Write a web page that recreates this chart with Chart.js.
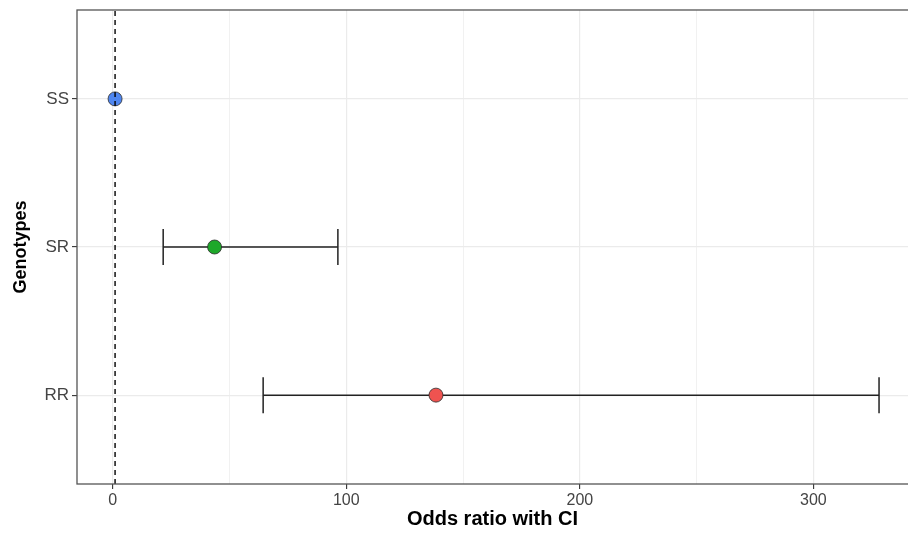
<!DOCTYPE html>
<html>
<head>
<meta charset="utf-8">
<script src="https://cdn.jsdelivr.net/npm/chart.js@4"></script>
<style>
  html, body { margin: 0; padding: 0; background: #fff; }
  #wrap { width: 908px; height: 534px; position: relative; }
</style>
</head>
<body>
<div id="wrap"><canvas id="chart"></canvas></div>
<script>
(() => {
  'use strict';

  // genotypes, top to bottom as in the picture
  const GENOTYPES = ['SS', 'SR', 'RR'];
  const ODDS = [1, 43.6, 138.4];
  const CI_LOW = [null, 21.6, 64.4];
  const CI_HIGH = [null, 96.4, 328.1];
  const COLORS = ['#4f86f0', '#1ea82a', '#ef5350'];
  const X_TICKS = [0, 100, 200, 300];
  const REF_LINE = 1;

  // category -> y position (SS on top)
  const ypos = (i) => GENOTYPES.length - i;

  const FONT = "'Liberation Sans', Arial, sans-serif";

  // points
  const points = {
    type: 'scatter',
    order: 1,
    data: GENOTYPES.map((g, i) => ({ x: ODDS[i], y: ypos(i) })),
    backgroundColor: COLORS,
    borderColor: '#2b2b2b',
    borderWidth: 0.8,
    pointRadius: 7,
    pointHoverRadius: 7,
  };

  // error bars: a line with vertical caps as point style
  const bars = GENOTYPES.map((g, i) => ({
    type: 'line',
    order: 2,
    data: CI_LOW[i] == null ? [] : [
      { x: CI_LOW[i], y: ypos(i) },
      { x: CI_HIGH[i], y: ypos(i) },
    ],
    borderColor: '#222',
    borderWidth: 1.5,
    pointStyle: 'line',
    rotation: 90,
    pointRadius: 18,
    pointHoverRadius: 18,
    pointBorderColor: '#222',
    pointBorderWidth: 1.5,
  }));

  // dashed reference line at OR = 1 (drawn on top)
  const ref = {
    type: 'line',
    order: 0,
    data: [{ x: REF_LINE, y: 0.4 }, { x: REF_LINE, y: 3.6 }],
    borderColor: '#000',
    borderWidth: 1.4,
    borderDash: [5, 4],
    pointRadius: 0,
  };

  // panel frame (right side runs off the picture)
  const frame = {
    id: 'frame',
    afterDatasetsDraw(chart) {
      const a = chart.chartArea, c = chart.ctx;
      c.save();
      c.strokeStyle = '#555';
      c.lineWidth = 1.3;
      c.strokeRect(a.left, a.top, a.right - a.left + 20, a.bottom - a.top);
      c.restore();
    },
  };

  new Chart(document.getElementById('chart'), {
    data: { datasets: [points, ...bars, ref] },
    plugins: [frame],
    options: {
      responsive: true,
      maintainAspectRatio: false,
      animation: false,
      layout: {
        autoPadding: false,
        padding: { top: 10, right: 0, bottom: 0, left: 0 },
      },
      plugins: {
        legend: { display: false },
        tooltip: { enabled: false },
      },
      scales: {
        x: {
          type: 'linear',
          min: -15.3,
          max: 340.5,
          afterBuildTicks: (s) => {
            s.ticks = [];
            for (let v = 0; v <= 300; v += 50) s.ticks.push({ value: v });
          },
          afterFit: (s) => {
            s.height = 50;
            s.paddingLeft = 0;
            s.paddingRight = 0;
          },
          border: { display: false },
          grid: {
            color: '#ebebeb',
            lineWidth: (ctx) => X_TICKS.includes(ctx.tick.value) ? 1.2 : 0.7,
            tickColor: (ctx) => X_TICKS.includes(ctx.tick.value) ? '#333' : 'rgba(0,0,0,0)',
            tickWidth: 1.1,
            tickLength: 5,
          },
          ticks: {
            color: '#444',
            font: { family: FONT, size: 16 },
            padding: 2,
            maxRotation: 0,
            callback: (v) => X_TICKS.includes(v) ? String(v) : '',
          },
          title: {
            display: true,
            text: 'Odds ratio with CI',
            color: '#000',
            font: { family: FONT, size: 20, weight: 'bold' },
            padding: { top: 2, bottom: 3 },
          },
        },
        y: {
          type: 'linear',
          min: 0.4,
          max: 3.6,
          afterBuildTicks: (s) => {
            s.ticks = GENOTYPES.map((g, i) => ({ value: ypos(i) }));
          },
          afterFit: (s) => {
            s.width = 77;
            s.paddingTop = 0;
            s.paddingBottom = 0;
          },
          border: { display: false },
          grid: {
            color: '#ebebeb',
            lineWidth: 1.2,
            tickColor: '#333',
            tickWidth: 1.1,
            tickLength: 5,
          },
          ticks: {
            color: '#444',
            font: { family: FONT, size: 17 },
            padding: 3,
            callback: (v) => GENOTYPES[GENOTYPES.length - v] ?? '',
          },
          title: {
            display: true,
            text: 'Genotypes',
            color: '#000',
            font: { family: FONT, size: 18, weight: 'bold' },
            padding: { top: 10, bottom: 4 },
          },
        },
      },
    },
  });
})();
</script>
</body>
</html>
